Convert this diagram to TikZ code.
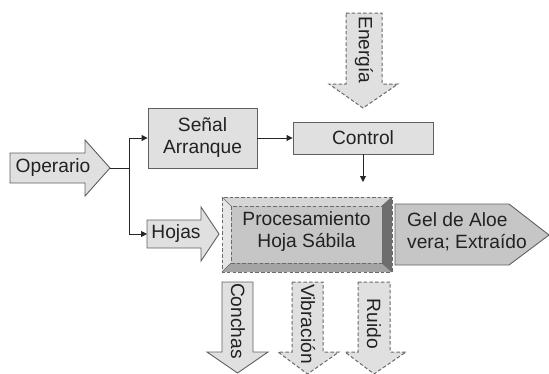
\documentclass[tikz,border=0pt]{standalone}
\usepackage{fontspec}
\setmainfont{Liberation Sans}
\usetikzlibrary{arrows.meta}
\definecolor{lineG}{HTML}{606060}
\definecolor{fillL}{HTML}{E0E0E0}
\definecolor{fillM}{HTML}{C6C6C6}
\definecolor{bevT}{HTML}{D6D6D6}
\definecolor{bevL}{HTML}{E6E6E6}
\definecolor{bevB}{HTML}{A4A4A4}
\definecolor{bevR}{HTML}{6E6E6E}
\definecolor{dashG}{HTML}{6A6A6A}
\definecolor{textG}{HTML}{222222}
\tikzset{
  txt/.style={font=\fontsize{19.2}{22}\selectfont, text=textG, inner sep=0pt, align=center},
  bigarrow/.style={draw=lineG, line width=0.9pt, fill=fillL, line join=miter},
  dasharrow/.style={draw=dashG, line width=1pt, fill=fillL, dash pattern=on 3.5pt off 2.2pt},
  boxnode/.style={draw=lineG, line width=0.9pt, fill=fillL, inner sep=0pt, txt},
  conn/.style={draw=black!85, line width=0.9pt, -{Triangle[length=6pt,width=6pt]}},
  plain/.style={draw=black!85, line width=0.9pt}
}
\begin{document}
\begin{tikzpicture}[x=1pt,y=-1pt]
\useasboundingbox (0,0) rectangle (549,373);
% Operario
\draw[bigarrow] (10,153) -- (85,153) -- (85,140) -- (110,168) -- (85,196) -- (85,183) -- (10,183) -- cycle;
\node[txt] (operario) at (53,168) {Operario};
\coordinate (optip) at (110,168);
\coordinate (j) at (129,168);
% Senal Arranque
\node[boxnode, minimum width=109pt, minimum height=60pt] (senal) at (202.5,138) {Señal\\Arranque};
% Control
\node[boxnode, minimum width=140pt, minimum height=32pt] (control) at (363,138) {Control};
% Energia
\draw[dasharrow] (346,13) -- (382,13) -- (382,84) -- (398,84) -- (363,108) -- (329,84) -- (346,84) -- cycle;
\node[txt, rotate=-90] (energia) at (364,50) {Energía};
% Hojas
\draw[bigarrow] (147,220) -- (201,220) -- (201,207) -- (219,234) -- (201,261) -- (201,248) -- (147,248) -- cycle;
\node[txt] (hojas) at (176,234) {Hojas};
\coordinate (hojastail) at (147,234);
% Procesamiento (bevel)
\fill[bevT] (222,197) -- (392,197) -- (382,206) -- (231,206) -- cycle;
\fill[bevL] (222,197) -- (231,206) -- (231,263) -- (222,272) -- cycle;
\fill[bevB] (222,272) -- (231,263) -- (382,263) -- (392,272) -- cycle;
\fill[bevR] (392,197) -- (382,206) -- (382,263) -- (392,272) -- cycle;
\fill[fillM] (231,206) rectangle (382,263);
\draw[draw=dashG, line width=1pt, dash pattern=on 3.5pt off 2.2pt] (222,197) rectangle (392,272);
\draw[draw=dashG, line width=1pt, dash pattern=on 3.5pt off 2.2pt] (231,206) rectangle (382,263);
\draw[draw=dashG, line width=0.6pt] (222,197) -- (231,206) (392,197) -- (382,206) (222,272) -- (231,263) (392,272) -- (382,263);
\node[txt] (proc) at (306.5,232) {Procesamiento\\Hoja Sábila};
\coordinate (proctop) at (363,182);
% Gel
\draw[bigarrow, fill=fillM] (395,204) -- (509,204) -- (549,235) -- (509,265) -- (395,265) -- cycle;
\node[txt, align=left, anchor=west] (gel) at (407,232) {Gel de Aloe\\vera; Extraído};
% Conchas
\draw[bigarrow] (222,282) -- (253,282) -- (253,352) -- (268,352) -- (237.5,373) -- (207,352) -- (222,352) -- cycle;
\node[txt, rotate=-90] (conchas) at (238,321) {Conchas};
% Vibracion
\draw[dasharrow] (292,282) -- (323,282) -- (323,352) -- (339,352) -- (307.5,374) -- (278,352) -- (292,352) -- cycle;
\node[txt, rotate=-90] (vibracion) at (308,324) {Vibración};
% Ruido
\draw[dasharrow] (358,282) -- (390,282) -- (390,352) -- (406,352) -- (374,374) -- (345,352) -- (358,352) -- cycle;
\node[txt, rotate=-90] (ruido) at (374,324) {Ruido};
% connectors
\draw[plain] (optip) -- (j);
\draw[conn] (j) |- (senal.west);
\draw[conn] (j) |- (hojastail);
\draw[conn] (senal.east) -- (control.west);
\draw[conn] (control.south) -- (proctop);
\end{tikzpicture}
\end{document}
